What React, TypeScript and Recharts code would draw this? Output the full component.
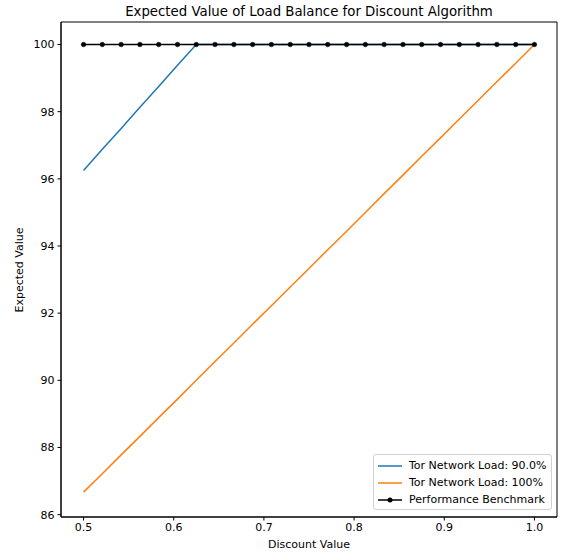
import { LineChart, Line, XAxis, YAxis, Legend, ReferenceArea } from 'recharts';

// discount values: 25 samples from 0.5 to 1.0
const discounts = [
  0.5, 0.5208, 0.5417, 0.5625, 0.5833, 0.6042, 0.625, 0.6458, 0.6667, 0.6875,
  0.7083, 0.7292, 0.75, 0.7708, 0.7917, 0.8125, 0.8333, 0.8542, 0.875, 0.8958,
  0.9167, 0.9375, 0.9583, 0.9792, 1.0,
];

const load90 = [
  96.25, 96.88, 97.5, 98.13, 98.75, 99.38, 100, 100, 100, 100,
  100, 100, 100, 100, 100, 100, 100, 100, 100, 100,
  100, 100, 100, 100, 100,
];

const load100 = [
  86.67, 87.22, 87.78, 88.33, 88.89, 89.44, 90.0, 90.56, 91.11, 91.67,
  92.22, 92.78, 93.33, 93.89, 94.44, 95.0, 95.56, 96.11, 96.67, 97.22,
  97.78, 98.33, 98.89, 99.44, 100,
];

const benchmark = [
  100, 100, 100, 100, 100, 100, 100, 100, 100, 100,
  100, 100, 100, 100, 100, 100, 100, 100, 100, 100,
  100, 100, 100, 100, 100,
];

const xTicks = [0.5, 0.6, 0.7, 0.8, 0.9, 1.0];
const yTicks = [86, 88, 90, 92, 94, 96, 98, 100];

const seriesNames = ['Tor Network Load: 90.0%', 'Tor Network Load: 100%', 'Performance Benchmark'];
const seriesColors = ['#1f77b4', '#ff7f0e', '#000000'];

const xDomain: [number, number] = [0.475, 1.025];
const yDomain: [number, number] = [85.93, 100.67];

const data = discounts.map((x, i) => ({
  x,
  load90: load90[i],
  load100: load100[i],
  bench: benchmark[i],
}));

const font = 'DejaVu Sans, sans-serif';
const tickStyle = { fontSize: 11, fill: '#000', fontFamily: font };

function LegendBox() {
  return (
    <div
      style={{
        boxSizing: 'border-box',
        width: 179,
        height: 56,
        border: '1px solid #d0d0d0',
        borderRadius: 3,
        background: 'rgba(255,255,255,0.8)',
        padding: '2px 4px',
        fontFamily: font,
        fontSize: 11,
        color: '#000',
      }}
    >
      {seriesNames.map((name, i) => (
        <div key={name} style={{ display: 'flex', alignItems: 'center', height: 17 }}>
          <svg width={24} height={10} style={{ marginRight: 7, flex: 'none' }}>
            <line x1={0} y1={5} x2={24} y2={5} stroke={seriesColors[i]} strokeWidth={1.5} />
            {i === 2 && <circle cx={12} cy={5} r={2.5} fill="#000" />}
          </svg>
          <span style={{ whiteSpace: 'nowrap' }}>{name}</span>
        </div>
      ))}
    </div>
  );
}

export default function App() {
  return (
    <div style={{ position: 'absolute', left: 0, top: 0, width: 562, height: 554, background: '#fff' }}>
      <LineChart width={562} height={554} data={data} margin={{ top: 22, right: 5, bottom: 0, left: 0 }}>
        <text x={309} y={16} textAnchor="middle" fontSize={13.3} fontFamily={font} fill="#000">
          Expected Value of Load Balance for Discount Algorithm
        </text>
        <text x={309} y={548} textAnchor="middle" fontSize={11} fontFamily={font} fill="#000">
          Discount Value
        </text>
        <text
          x={23}
          y={270}
          textAnchor="middle"
          fontSize={11}
          fontFamily={font}
          fill="#000"
          transform="rotate(-90 23 270)"
        >
          Expected Value
        </text>
        <XAxis
          dataKey="x"
          type="number"
          domain={xDomain}
          ticks={xTicks}
          tickFormatter={(v: number) => v.toFixed(1)}
          tick={tickStyle}
          tickSize={3.5}
          tickMargin={3}
          height={37}
          axisLine={{ stroke: '#000' }}
          tickLine={{ stroke: '#000' }}
          allowDataOverflow
        />
        <YAxis
          type="number"
          domain={yDomain}
          ticks={yTicks}
          tick={tickStyle}
          tickSize={3.5}
          tickMargin={3}
          width={61}
          axisLine={{ stroke: '#000' }}
          tickLine={{ stroke: '#000' }}
          allowDataOverflow
        />
        <ReferenceArea
          x1={xDomain[0]}
          x2={xDomain[1]}
          y1={yDomain[0]}
          y2={yDomain[1]}
          fill="none"
          stroke="#000"
          strokeWidth={1}
          ifOverflow="visible"
        />
        <Line
          dataKey="load90"
          name={seriesNames[0]}
          stroke={seriesColors[0]}
          strokeWidth={1.5}
          dot={false}
          type="linear"
          isAnimationActive={false}
        />
        <Line
          dataKey="load100"
          name={seriesNames[1]}
          stroke={seriesColors[1]}
          strokeWidth={1.5}
          dot={false}
          type="linear"
          isAnimationActive={false}
        />
        <Line
          dataKey="bench"
          name={seriesNames[2]}
          stroke={seriesColors[2]}
          strokeWidth={1.5}
          dot={{ r: 2.3, fill: '#000', stroke: '#000', strokeWidth: 0.5 }}
          type="linear"
          isAnimationActive={false}
        />
        <Legend
          layout="vertical"
          align="center"
          verticalAlign="middle"
          content={() => <LegendBox />}
          wrapperStyle={{ left: 373, top: 454, width: 'auto' }}
        />
      </LineChart>
    </div>
  );
}
